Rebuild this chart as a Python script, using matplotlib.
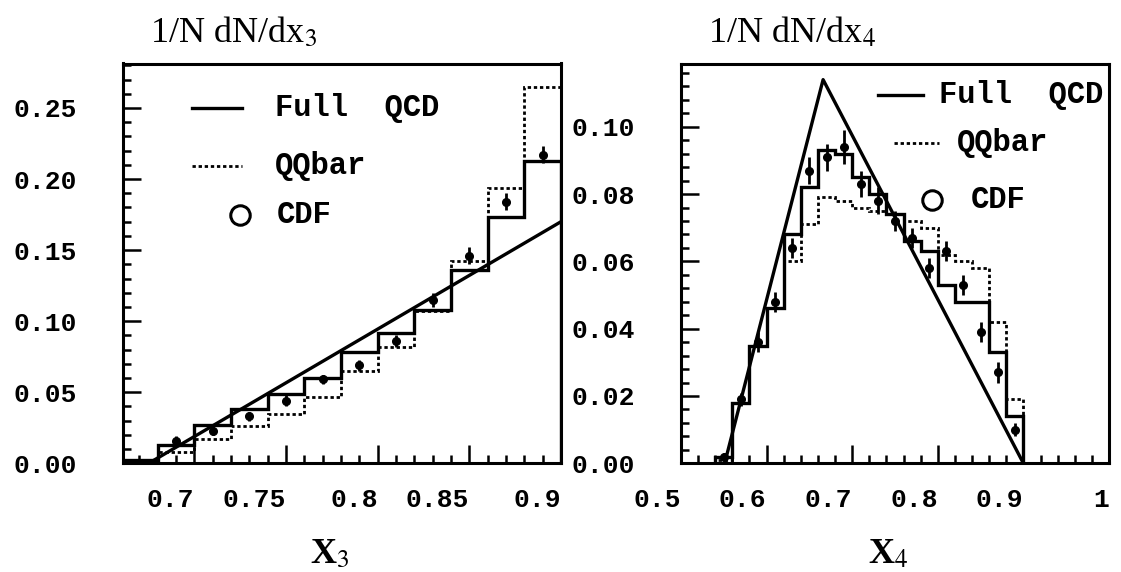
import numpy as np
import matplotlib
matplotlib.use("Agg")
import matplotlib.pyplot as plt
from matplotlib.ticker import MultipleLocator

plt.rcParams['mathtext.fontset'] = 'stix'

# ---- left panel: x3 ----
x3_edges = [0.66, 0.68, 0.70, 0.72, 0.74, 0.76, 0.78, 0.80, 0.82, 0.84, 0.86, 0.88, 0.90]
x3_qcd = [0.002, 0.013, 0.027, 0.038, 0.049, 0.060, 0.078, 0.092, 0.108, 0.136, 0.173, 0.213]
x3_qq = [0.001, 0.008, 0.017, 0.026, 0.035, 0.047, 0.065, 0.082, 0.107, 0.142, 0.194, 0.265]
x3_line_x = [0.675, 0.90]
x3_line_y = [0.0, 0.170]
x3_cdf_x = [0.69, 0.71, 0.73, 0.75, 0.77, 0.79, 0.81, 0.83, 0.85, 0.87, 0.89]
x3_cdf_y = [0.016, 0.023, 0.033, 0.044, 0.059, 0.069, 0.086, 0.115, 0.146, 0.184, 0.217]
x3_cdf_err = [0.003, 0.003, 0.003, 0.004, 0.003, 0.004, 0.004, 0.005, 0.006, 0.006, 0.006]

# ---- right panel: x4 ----
x4_edges = [0.54, 0.56, 0.58, 0.60, 0.62, 0.64, 0.66, 0.68, 0.70, 0.72, 0.74,
            0.76, 0.78, 0.80, 0.82, 0.84, 0.86, 0.88, 0.90]
x4_qcd = [0.002, 0.018, 0.035, 0.046, 0.068, 0.082, 0.093, 0.092, 0.085, 0.080,
          0.074, 0.066, 0.063, 0.053, 0.048, 0.048, 0.033, 0.014]
x4_qq = [0.001, 0.018, 0.035, 0.046, 0.060, 0.071, 0.079, 0.078, 0.076, 0.075,
         0.074, 0.072, 0.070, 0.062, 0.060, 0.058, 0.042, 0.019]
x4_tri_x = [0.551, 0.666, 0.90]
x4_tri_y = [0.0, 0.114, 0.0]
x4_cdf_x = [0.55, 0.57, 0.59, 0.61, 0.63, 0.65, 0.67, 0.69, 0.71, 0.73, 0.75,
            0.77, 0.79, 0.81, 0.83, 0.85, 0.87, 0.89]
x4_cdf_y = [0.002, 0.019, 0.036, 0.048, 0.064, 0.087, 0.091, 0.094, 0.083, 0.078,
            0.072, 0.067, 0.058, 0.063, 0.053, 0.039, 0.027, 0.010]
x4_cdf_err = [0.001, 0.002, 0.003, 0.003, 0.003, 0.004, 0.004, 0.005, 0.004, 0.004,
              0.003, 0.003, 0.003, 0.003, 0.003, 0.003, 0.003, 0.002]

mono = dict(family='Liberation Mono', weight='bold')
W, H = 1121, 572

fig = plt.figure(figsize=(W / 100, H / 100), dpi=100)


def box(x0, x1, y0=63.5, y1=463.3):
    return [x0 / W, 1 - y1 / H, (x1 - x0) / W, (y1 - y0) / H]


ax1 = fig.add_axes(box(123, 561))
ax2 = fig.add_axes(box(681, 1109))


def style(ax, major_x, minor_x, major_y, minor_y, xfmt):
    for s in ax.spines.values():
        s.set_linewidth(2.2)
    ax.xaxis.set_major_locator(MultipleLocator(major_x))
    ax.xaxis.set_minor_locator(MultipleLocator(minor_x))
    ax.yaxis.set_major_locator(MultipleLocator(major_y))
    ax.yaxis.set_minor_locator(MultipleLocator(minor_y))
    ax.tick_params(which='both', direction='in', top=False, right=False, width=1.8)
    ax.tick_params(which='major', length=13)
    ax.tick_params(which='minor', length=6)
    ax.tick_params(axis='y', which='major', pad=33, labelsize=19)
    ax.tick_params(axis='x', which='major', pad=18, labelsize=19)
    ax.yaxis.set_major_formatter(lambda v, p: f"{v:.2f}")
    ax.xaxis.set_major_formatter(xfmt)
    for lab in ax.get_xticklabels() + ax.get_yticklabels():
        lab.set_fontfamily('Liberation Mono')
        lab.set_fontweight('bold')
    for lab in ax.get_xticklabels():
        lab.set_ha('right')


def draw(ax, edges, qcd, qq, lx, ly, cx, cy, ce):
    ax.stairs(qcd, edges, color='k', lw=2.4)
    ax.stairs(qq, edges, color='k', lw=2.0, linestyle=(0, (1.2, 1.0)))
    ax.plot(lx, ly, color='k', lw=2.4)
    ax.errorbar(cx, cy, yerr=ce, fmt='o', ms=5.5, color='k', elinewidth=2, capsize=0)


draw(ax1, x3_edges, x3_qcd, x3_qq, x3_line_x, x3_line_y, x3_cdf_x, x3_cdf_y, x3_cdf_err)
ax1.set_xlim(0.661, 0.90)
ax1.set_ylim(0, 0.2813)
style(ax1, 0.05, 0.01, 0.05, 0.01, lambda v, p: f"{v:.2f}".rstrip('0'))

draw(ax2, x4_edges, x4_qcd, x4_qq, x4_tri_x, x4_tri_y, x4_cdf_x, x4_cdf_y, x4_cdf_err)
ax2.set_xlim(0.5, 1.0)
ax2.set_ylim(0, 0.1188)
style(ax2, 0.1, 0.02, 0.02, 0.004,
      lambda v, p: '1' if abs(v - 1) < 1e-9 else f"{v:.1f}")


def legend(ax, rows):
    tr = ax.transAxes
    (a0, a1, ay, tx1), (b0, b1, by, tx2), (cxx, cyy, tx3) = rows
    ax.plot([a0, a1], [ay, ay], transform=tr, color='k', lw=2.4)
    ax.text(tx1, ay, 'Full  QCD', transform=tr, va='center', fontsize=22, **mono)
    ax.plot([b0, b1], [by, by], transform=tr, color='k', lw=2.0, linestyle=(0, (1.2, 1.0)))
    ax.text(tx2, by, 'QQbar', transform=tr, va='center', fontsize=22, **mono)
    ax.plot([cxx], [cyy], 'o', transform=tr, mfc='white', mec='k', mew=2.2, ms=14)
    ax.text(tx3, cyy, 'CDF', transform=tr, va='center', fontsize=22, **mono)


legend(ax1, [(0.158, 0.272, 0.888, 0.347), (0.158, 0.272, 0.744, 0.347), (0.267, 0.621, 0.351)])
legend(ax2, [(0.460, 0.565, 0.922, 0.602), (0.498, 0.602, 0.800, 0.644), (0.586, 0.658, 0.677)])

serif = dict(family='Liberation Serif', fontsize=26)
fig.text(150 / W, 1 - 33 / H, r'1/N dN/dx$_3$', ha='left', va='center', **serif)
fig.text(708 / W, 1 - 33 / H, r'1/N dN/dx$_4$', ha='left', va='center', **serif)
fig.text(330 / W, 1 - 555 / H, r'X$_3$', ha='center', va='center', fontweight='bold', **serif)
fig.text(888 / W, 1 - 555 / H, r'X$_4$', ha='center', va='center', fontweight='bold', **serif)

fig.savefig('out.png', dpi=100)
